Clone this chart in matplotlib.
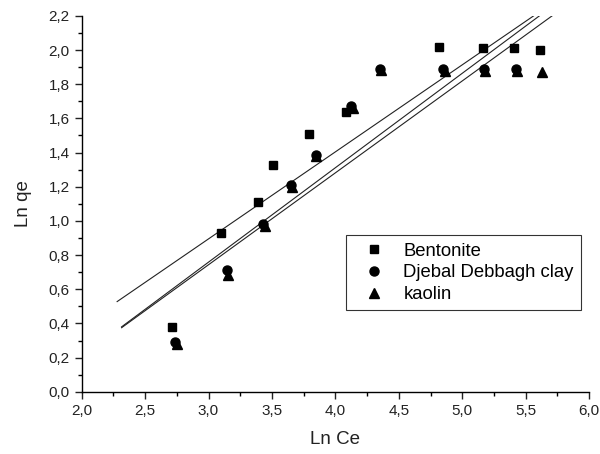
import matplotlib.pyplot as plt
import numpy as np
from matplotlib.ticker import FuncFormatter, MultipleLocator

plt.rcParams['font.family'] = ['Liberation Sans', 'DejaVu Sans']

# Data
bent_x = [2.71, 3.10, 3.39, 3.51, 3.79, 4.08, 4.82, 5.16, 5.41, 5.61]
bent_y = [0.38, 0.93, 1.11, 1.33, 1.51, 1.64, 2.02, 2.01, 2.01, 2.00]

djeb_x = [2.735, 3.143, 3.431, 3.654, 3.844, 4.12, 4.35, 4.85, 5.17, 5.42]
djeb_y = [0.29, 0.71, 0.98, 1.21, 1.385, 1.67, 1.89, 1.89, 1.89, 1.89]

kaol_x = [2.749, 3.155, 3.444, 3.66, 3.85, 4.135, 4.36, 4.86, 5.18, 5.43, 5.63]
kaol_y = [0.28, 0.685, 0.97, 1.20, 1.38, 1.66, 1.885, 1.88, 1.88, 1.88, 1.87]

# linear fits (slope, intercept, start x) as drawn
fit_slope = [0.5095, 0.5528, 0.538]
fit_icpt = [-0.6337, -0.8997, -0.8705]
fit_x0 = [2.28, 2.315, 2.315]

fig = plt.figure(figsize=(6, 4.54), dpi=100)
ax = fig.add_axes([0.136, 0.137, 0.846, 0.828])

for s, b, x0 in zip(fit_slope, fit_icpt, fit_x0):
    xx = np.array([x0, 6.0])
    ax.plot(xx, s * xx + b, color='#222222', lw=0.8)

ax.plot(bent_x, bent_y, 's', color='black', ms=5.5, label='Bentonite', clip_on=False)
ax.plot(djeb_x, djeb_y, 'o', color='black', ms=6.5, label='Djebal Debbagh clay', clip_on=False)
ax.plot(kaol_x, kaol_y, '^', color='black', ms=7, label='kaolin', clip_on=False)

ax.set_xlim(2.0, 6.0)
ax.set_ylim(0.0, 2.2)
ax.xaxis.set_major_locator(MultipleLocator(0.5))
ax.xaxis.set_minor_locator(MultipleLocator(0.25))
ax.yaxis.set_major_locator(MultipleLocator(0.2))
ax.yaxis.set_minor_locator(MultipleLocator(0.1))
fmt = FuncFormatter(lambda v, p: ('%.1f' % v).replace('.', ','))
ax.xaxis.set_major_formatter(fmt)
ax.yaxis.set_major_formatter(fmt)

ax.spines['top'].set_visible(False)
ax.spines['right'].set_visible(False)
ax.spines['left'].set_linewidth(1.0)
ax.spines['bottom'].set_linewidth(1.0)
ax.tick_params(which='major', direction='out', length=5, width=1.0, labelsize=11, colors='#222222')
ax.tick_params(which='minor', direction='out', length=3, width=1.0)

ax.set_xlabel('Ln Ce', fontsize=13.5, color='#222222', labelpad=10)
ax.set_ylabel('Ln qe', fontsize=13.5, color='#222222', labelpad=12)

leg = ax.legend(loc='upper left', bbox_to_anchor=(0.521, 0.416), fontsize=13.3,
                frameon=True, fancybox=False, edgecolor='black', handlelength=2.2,
                handletextpad=0.5, borderpad=0.4, labelspacing=0.25, borderaxespad=0)
leg.get_frame().set_linewidth(0.8)

fig.savefig('out.png', dpi=100)
